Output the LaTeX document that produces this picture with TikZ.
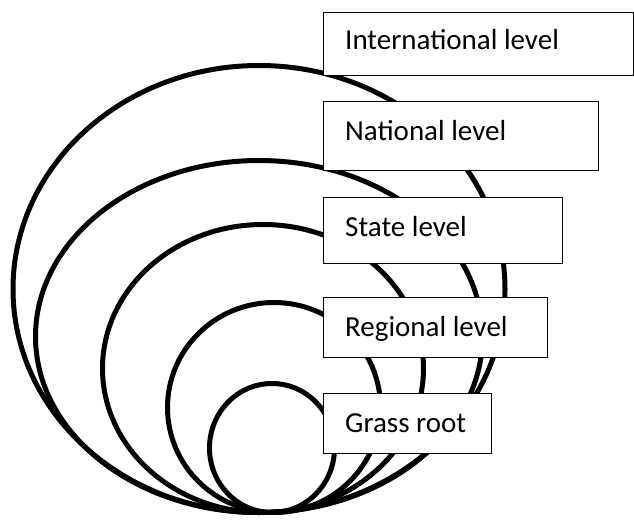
\documentclass[tikz,border=0pt]{standalone}
\usepackage{fontspec}
\setmainfont{Carlito}
\begin{document}
\begin{tikzpicture}[x=1pt,y=-1pt,
  ring/.style={line width=5pt, draw=black},
  levelbox/.style={draw=black, fill=white, line width=1.3pt, rectangle, inner sep=0pt, anchor=north west},
  levellabel/.style={anchor=base west, inner sep=0pt, font=\fontsize{29}{35}\selectfont}]
\useasboundingbox (0,0) rectangle (634,519);
\fill[white] (0,0) rectangle (634,519);

% nested rings, all touching at the bottom
\draw[ring] (259,289)   ellipse [x radius=246pt,   y radius=223.5pt];
\draw[ring] (259,336.5) ellipse [x radius=223.5pt, y radius=176pt];
\draw[ring] (263,368.5) ellipse [x radius=160.5pt, y radius=144pt];
\draw[ring] (274,407.5) ellipse [x radius=106.5pt, y radius=105pt];
\draw[ring] (272,448)   ellipse [x radius=62.5pt,  y radius=64.5pt];

% level boxes
\node[levelbox, minimum width=310pt, minimum height=63pt] (intl) at (323,12) {};
\node[levelbox, minimum width=275pt, minimum height=69pt] (natl) at (323,101) {};
\node[levelbox, minimum width=239pt, minimum height=66pt] (state) at (323,197) {};
\node[levelbox, minimum width=224pt, minimum height=60pt] (regn) at (323,297) {};
\node[levelbox, minimum width=168pt, minimum height=60pt] (grass) at (323,393) {};

% labels
\node[levellabel] (intlT) at (345,50) {International level};
\node[levellabel] (natlT) at (345,140) {National level};
\node[levellabel] (stateT) at (345,236) {State level};
\node[levellabel] (regnT) at (345,336) {Regional level};
\node[levellabel] (grassT) at (345,432) {Grass root};
\end{tikzpicture}
\end{document}
